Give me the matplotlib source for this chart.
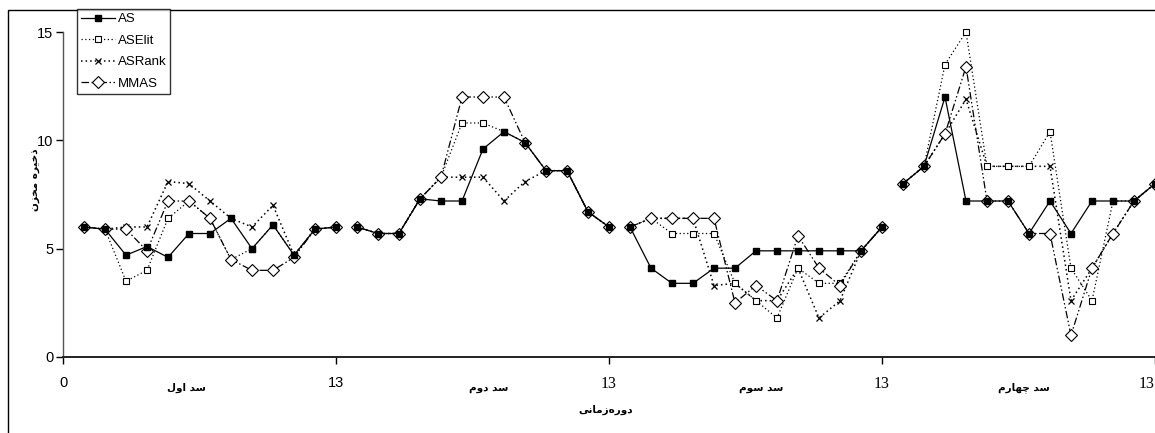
import matplotlib
matplotlib.use('Agg')
import matplotlib.pyplot as plt
from matplotlib.patches import Rectangle

# ---------------- data ----------------
periods_per_dam = 13
dam_labels = ["سد اول", "سد دوم", "سد سوم", "سد چهارم"]
x_tick_labels = ["0", "13", "13", "13", "13"]
y_ticks = [0, 5, 10, 15]
x_title = "دوره‌زمانی"
y_title = "ذخیره مخزن"
series_names = ["AS", "ASElit", "ASRank", "MMAS"]

AS = [6.0, 5.9, 4.7, 5.1, 4.6, 5.7, 5.7, 6.4, 5.0, 6.1, 4.7, 5.9, 6.0,
      6.0, 5.7, 5.7, 7.3, 7.2, 7.2, 9.6, 10.4, 9.9, 8.6, 8.6, 6.7, 6.0,
      6.0, 4.1, 3.4, 3.4, 4.1, 4.1, 4.9, 4.9, 4.9, 4.9, 4.9, 4.9, 6.0,
      8.0, 8.8, 12.0, 7.2, 7.2, 7.2, 5.7, 7.2, 5.7, 7.2, 7.2, 7.2, 8.0]
ASElit = [6.0, 5.9, 3.5, 4.0, 6.4, 7.2, 6.4, 4.5, 5.0, 6.1, 4.7, 5.9, 6.0,
          6.0, 5.7, 5.7, 7.3, 8.3, 10.8, 10.8, 10.4, 9.9, 8.6, 8.6, 6.7, 6.0,
          6.0, 6.4, 5.7, 5.7, 5.7, 3.4, 2.6, 1.8, 4.1, 3.4, 3.4, 4.9, 6.0,
          8.0, 8.8, 13.5, 15.0, 8.8, 8.8, 8.8, 10.4, 4.1, 2.6, 7.2, 7.2, 8.0]
ASRank = [6.0, 5.9, 6.0, 6.0, 8.1, 8.0, 7.2, 6.4, 6.0, 7.0, 4.7, 5.9, 6.0,
          6.0, 5.7, 5.7, 7.3, 8.3, 8.3, 8.3, 7.2, 8.1, 8.6, 8.6, 6.7, 6.0,
          6.0, 6.4, 6.4, 6.4, 3.3, 3.4, 2.6, 2.6, 4.1, 1.8, 2.6, 4.9, 6.0,
          8.0, 8.8, 10.3, 11.9, 8.8, 8.8, 8.8, 8.8, 2.6, 4.1, 5.7, 7.2, 8.0]
MMAS = [6.0, 5.9, 5.9, 4.9, 7.2, 7.2, 6.4, 4.5, 4.0, 4.0, 4.6, 5.9, 6.0,
        6.0, 5.7, 5.7, 7.3, 8.3, 12.0, 12.0, 12.0, 9.9, 8.6, 8.6, 6.7, 6.0,
        6.0, 6.4, 6.4, 6.4, 6.4, 2.5, 3.3, 2.6, 5.6, 4.1, 3.3, 4.9, 6.0,
        8.0, 8.8, 10.3, 13.4, 7.2, 7.2, 5.7, 5.7, 1.0, 4.1, 5.7, 7.2, 8.0]

# ---------------- Arabic shaping (no external libs) ----------------
DUAL = {'س': (0xFEB1, 0xFEB2, 0xFEB3, 0xFEB4), 'خ': (0xFEA5, 0xFEA6, 0xFEA7, 0xFEA8),
        'ل': (0xFEDD, 0xFEDE, 0xFEDF, 0xFEE0), 'م': (0xFEE1, 0xFEE2, 0xFEE3, 0xFEE4),
        'ن': (0xFEE5, 0xFEE6, 0xFEE7, 0xFEE8), 'ه': (0xFEE9, 0xFEEA, 0xFEEB, 0xFEEC),
        'ی': (0xFBFC, 0xFBFD, 0xFBFE, 0xFBFF), 'چ': (0xFB7A, 0xFB7B, 0xFB7C, 0xFB7D)}
RIGHT = {'ا': (0xFE8D, 0xFE8E), 'د': (0xFEA9, 0xFEAA), 'ذ': (0xFEAB, 0xFEAC),
         'ر': (0xFEAD, 0xFEAE), 'ز': (0xFEAF, 0xFEB0), 'و': (0xFEED, 0xFEEE)}


def shape(s):
    out = []
    n = len(s)
    for i, c in enumerate(s):
        if c not in DUAL and c not in RIGHT:
            if c != '\u200c':
                out.append(c)
            continue
        prev = s[i - 1] if i > 0 else ''
        nxt = s[i + 1] if i + 1 < n else ''
        jp = prev in DUAL
        jn = c in DUAL and (nxt in DUAL or nxt in RIGHT)
        if c in RIGHT:
            out.append(chr(RIGHT[c][1] if jp else RIGHT[c][0]))
        else:
            f = DUAL[c]
            g = f[3] if (jp and jn) else f[1] if jp else f[2] if jn else f[0]
            out.append(chr(g))
    return ''.join(reversed(out))


# ---------------- figure ----------------
W, H = 1155, 433
fig = plt.figure(figsize=(W / 100, H / 100), dpi=100)
sans = ['Liberation Sans Narrow', 'Liberation Sans', 'DejaVu Sans']
plt.rcParams['font.family'] = sans

# outer chart frame
fig.add_artist(Rectangle((8 / W, -0.1), 1.2, (H - 10) / H + 0.1, transform=fig.transFigure,
                         fill=False, lw=1.0, ec='black', zorder=-1))

ax = fig.add_axes([63 / W, 76 / H, 1 - 63 / W, 325 / H])
ax.patch.set_visible(False)
ax.set_xlim(0, 4 * periods_per_dam)
ax.set_ylim(0, 15)
for s in ['top', 'right']:
    ax.spines[s].set_visible(False)
ax.spines['left'].set_color('#555555')
ax.spines['left'].set_linewidth(1.0)
ax.spines['bottom'].set_color('#222222')
ax.spines['bottom'].set_linewidth(1.4)

styles = {
    'AS': dict(color='black', lw=0.9, ls='-', marker='s', ms=4.5, mfc='black', mec='black'),
    'ASElit': dict(color='black', lw=0.9, ls=(0, (1, 2)), marker='s', ms=3.8, mfc='white',
                   mec='black', mew=0.8),
    'ASRank': dict(color='black', lw=1.1, ls=(0, (1, 2)), marker='x', ms=4.0, mec='black',
                   mew=0.9),
    'MMAS': dict(color='black', lw=0.9, ls=(0, (6, 2, 1.2, 2, 1.2, 2)), marker='D', ms=6.5,
                 mfc='white', mec='black', mew=0.8),
}
data = {'AS': AS, 'ASElit': ASElit, 'ASRank': ASRank, 'MMAS': MMAS}
draw_order = ['ASRank', 'ASElit', 'MMAS', 'AS']
handles = {}
for name in draw_order:
    vals = data[name]
    for k in range(4):
        xs = [k * periods_per_dam + i + 1 for i in range(periods_per_dam)]
        ys = vals[k * periods_per_dam:(k + 1) * periods_per_dam]
        ln, = ax.plot(xs, ys, clip_on=False, zorder=3 if name == 'AS' else 2,
                      label=name if k == 0 else None, **styles[name])
        if k == 0:
            handles[name] = ln

ax.set_xticks([k * periods_per_dam for k in range(5)])
ax.set_xticklabels(x_tick_labels)
ax.set_yticks(y_ticks)
ax.tick_params(axis='both', direction='out', length=5, width=1, labelsize=10.5, colors='black')
ax.tick_params(axis='x', pad=9)
ax.tick_params(axis='y', pad=2)
xtl = ax.get_xticklabels()
for lab in xtl[2:]:
    lab.set_fontfamily(['Liberation Serif', 'DejaVu Serif'])
    lab.set_fontsize(11.5)
xtl[-1].set_horizontalalignment('right')

leg = ax.legend([handles[n] for n in series_names], series_names, loc='upper left',
                bbox_to_anchor=(77 / W, 1 - 9 / H), bbox_transform=fig.transFigure,
                borderaxespad=0, fontsize=9.5, frameon=True, fancybox=False,
                handlelength=2.6, handletextpad=0.2, labelspacing=0.7, borderpad=0.3)
leg.get_frame().set_edgecolor('black')
leg.get_frame().set_linewidth(1.0)
leg.get_frame().set_facecolor('white')
leg.set_zorder(5)

arab = dict(family=['DejaVu Sans'], fontweight='bold', fontsize=7.5, ha='center', va='center')
for lbl, px in zip(dam_labels, [186, 489, 761, 1024]):
    fig.text(px / W, 1 - 388 / H, shape(lbl), **arab)
fig.text(606 / W, 1 - 410 / H, shape(x_title), **arab)
fig.text(36 / W, 1 - 180 / H, shape(y_title), rotation=90, **arab)

fig.savefig('out.png', dpi=100, facecolor='white')
